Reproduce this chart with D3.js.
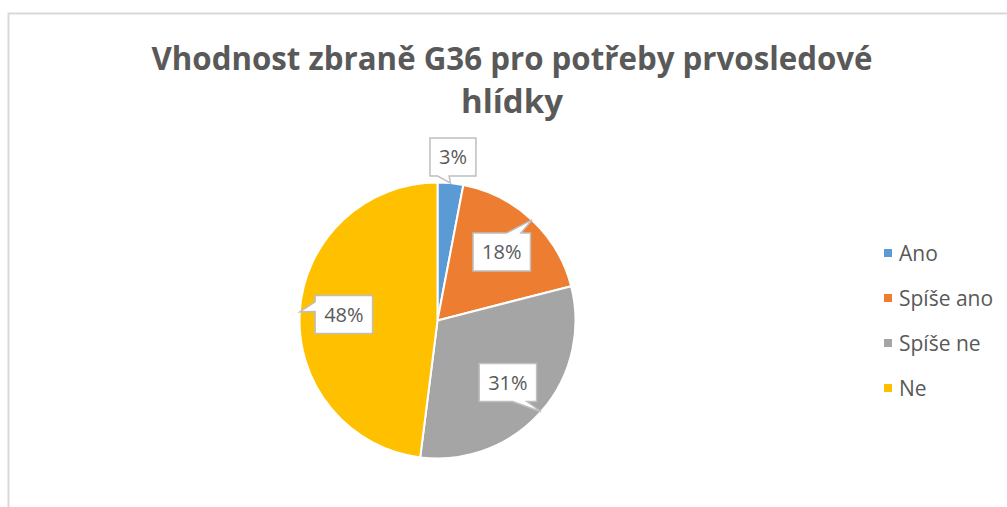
<!DOCTYPE html>
<html>
<head>
	<meta charset="UTF-8">
	<title>Vhodnost zbraně G36 pro potřeby prvosledové hlídky</title>
	<style>
		body {
			margin: 0;
			background: white;
			font-family: "Open Sans", "Noto Sans", sans-serif;
		}
		.slice {
			stroke: white;
			stroke-width: 2;
		}
		.callout {
			fill: white;
			stroke: #bfbfbf;
			stroke-width: 1.5;
		}
		.callout-text, .legend-text {
			fill: #595959;
			font-size: 20px;
		}
		.legend-text {
			font-size: 21px;
		}
		.title {
			fill: #595959;
			font-size: 33px;
			font-weight: bold;
		}
	</style>
</head>
<body>

<svg id="chart" width="1007" height="507"></svg>

<script src="https://d3js.org/d3.v7.min.js"></script>
<script>

	// data
	let categories = ["Ano", "Spíše ano", "Spíše ne", "Ne"];
	let values = [3, 18, 31, 48];
	let labels = ["3%", "18%", "31%", "48%"];
	let colors = ["#5b9bd5", "#ed7d31", "#a5a5a5", "#ffc000"];
	let titleLines = ["Vhodnost zbraně G36 pro potřeby prvosledové", "hlídky"];

	let width = 1007, height = 507;
	let cx = 437.5, cy = 320.5, radius = 138;

	let svg = d3.select("#chart");

	// chart area border (left + top only visible)
	svg.append("path")
		.attr("d", "M8.5," + height + " V13.5 H" + width)
		.attr("fill", "none")
		.attr("stroke", "#d9d9d9")
		.attr("stroke-width", 2);

	// title
	let title = svg.append("g");
	title.selectAll("text")
		.data(titleLines)
		.enter()
		.append("text")
		.attr("class", "title")
		.attr("x", 512)
		.attr("y", (d, i) => 70 + i * 43)
		.attr("text-anchor", "middle")
		.text(d => d)
		.each(function(d, i) {
			// Calibri is narrower than what we have, squeeze to fit
			let target = i == 0 ? 721 : 145;
			let w = this.getComputedTextLength();
			if (w > target) {
				d3.select(this)
					.attr("textLength", target)
					.attr("lengthAdjust", "spacingAndGlyphs");
			}
		});

	// pie
	let color = d3.scaleOrdinal(categories, colors);
	let pie = d3.pie().sort(null).value(d => d.value);
	let arcs = pie(categories.map((c, i) => ({name: c, value: values[i], label: labels[i]})));
	let arc = d3.arc().innerRadius(0).outerRadius(radius);
	let edgeArc = d3.arc().innerRadius(radius).outerRadius(radius);
	let total = d3.sum(values);

	let g = svg.append("g").attr("transform", "translate(" + cx + "," + cy + ")");

	g.selectAll("path.slice")
		.data(arcs)
		.enter()
		.append("path")
		.attr("class", "slice")
		.attr("fill", d => color(d.data.name))
		.attr("d", arc);

	// callouts
	function labelPos(d) {
		let r = d.data.value / total < 0.05 ? radius * 1.19 : radius * 0.68;
		return d3.arc().innerRadius(r).outerRadius(r).centroid(d);
	}

	// rectangle with wedge pointing to (tx, ty), like office wedgeRectCallout
	function calloutPath(x0, y0, w, h, tx, ty) {
		let mx = x0 + w / 2, my = y0 + h / 2;
		let dxn = (tx - mx) / w, dyn = (ty - my) / h;
		let x1 = x0 + w, y1 = y0 + h;
		let p;
		if (Math.abs(dxn) > Math.abs(dyn)) {
			let ya = ty > my ? y0 + h * 7 / 12 : y0 + h * 2 / 12;
			let yb = ty > my ? y0 + h * 10 / 12 : y0 + h * 5 / 12;
			if (dxn < 0) {
				p = [[x0, y0], [x1, y0], [x1, y1], [x0, y1], [x0, yb], [tx, ty], [x0, ya]];
			} else {
				p = [[x0, y0], [x1, y0], [x1, ya], [tx, ty], [x1, yb], [x1, y1], [x0, y1]];
			}
		} else {
			let xa = tx > mx ? x0 + w * 7 / 12 : x0 + w * 2 / 12;
			let xb = tx > mx ? x0 + w * 10 / 12 : x0 + w * 5 / 12;
			if (dyn < 0) {
				p = [[x0, y0], [xa, y0], [tx, ty], [xb, y0], [x1, y0], [x1, y1], [x0, y1]];
			} else {
				p = [[x0, y0], [x1, y0], [x1, y1], [xb, y1], [tx, ty], [xa, y1], [x0, y1]];
			}
		}
		return "M" + p.map(q => q.join(",")).join("L") + "Z";
	}

	let callouts = g.selectAll("g.callout-g")
		.data(arcs)
		.enter()
		.append("g")
		.attr("class", "callout-g");

	callouts.each(function(d) {
		let sel = d3.select(this);
		let pos = labelPos(d);
		let tip = edgeArc.centroid(d);
		let txt = sel.append("text")
			.attr("class", "callout-text")
			.attr("x", pos[0])
			.attr("y", pos[1])
			.attr("text-anchor", "middle")
			.attr("dy", "0.36em")
			.text(d.data.label);
		let tw = txt.node().getComputedTextLength();
		let bw = tw + 18, bh = 38;
		sel.insert("path", "text")
			.attr("class", "callout")
			.attr("d", calloutPath(pos[0] - bw / 2, pos[1] - bh / 2, bw, bh, tip[0], tip[1]));
	});

	// legend
	let legend = svg.append("g")
		.attr("transform", "translate(884,253)");

	let rows = legend.selectAll("g")
		.data(categories)
		.enter()
		.append("g")
		.attr("transform", (d, i) => "translate(0," + i * 45 + ")");

	rows.append("rect")
		.attr("x", 0)
		.attr("y", -4)
		.attr("width", 8)
		.attr("height", 8)
		.attr("fill", d => color(d));

	rows.append("text")
		.attr("class", "legend-text")
		.attr("x", 15)
		.attr("dy", "0.36em")
		.text(d => d);

</script>
</body>
</html>
